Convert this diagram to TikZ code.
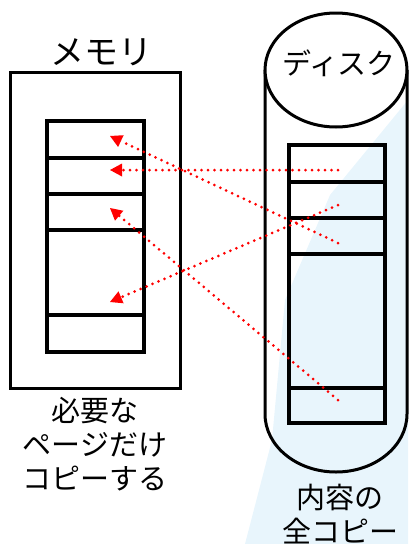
\documentclass[tikz,border=0pt]{standalone}
\usepackage{fontspec}
\setmainfont{Noto Sans CJK JP}
\usetikzlibrary{arrows.meta}
\definecolor{wm}{RGB}{232,245,252}
\definecolor{dotred}{RGB}{255,0,0}
\tikzset{
  rowbox/.style={draw=black, line width=3.5pt, inner sep=0pt},
  outerbox/.style={draw=black, line width=3pt, inner sep=0pt},
  copyarrow/.style={draw=dotred, line width=3pt, line cap=round, dash pattern=on 0pt off 6.5pt,
     -{Triangle[length=12pt,width=13pt,fill=dotred,line width=0pt]}},
  bigtext/.style={font=\fontsize{29}{34}\selectfont, align=center, inner sep=0pt},
}
\begin{document}
\begin{tikzpicture}[x=1pt,y=-1pt]
\useasboundingbox (0,0) rectangle (408,544);
% faint background shape
\fill[wm] (408,100) -- (330,195) -- (285,300) -- (272,440) -- (245,544) -- (408,544) -- cycle;

% memory
\node[outerbox, minimum width=170pt, minimum height=316pt] (mem) at (95,230) {};
\node[font=\fontsize{34}{40}\selectfont, inner sep=0pt] (memtitle) at (101,52) {メモリ};
\node[rowbox, minimum width=97pt, minimum height=37pt] (m1) at (95.5,139.5) {};
\node[rowbox, minimum width=97pt, minimum height=36pt] (m2) at (95.5,176) {};
\node[rowbox, minimum width=97pt, minimum height=36pt] (m3) at (95.5,212) {};
\node[rowbox, minimum width=97pt, minimum height=85pt] (m4) at (95.5,272.5) {};
\node[rowbox, minimum width=97pt, minimum height=37pt] (m5) at (95.5,333.5) {};

% disk cylinder
\draw[line width=3pt] (265,70) -- (265,414)
   arc[start angle=180, end angle=360, x radius=71pt, y radius=58pt] -- (407,70);
\draw[line width=3pt, fill=white] (336,70) ellipse[x radius=71pt, y radius=57pt];
\node[bigtext] (disktitle) at (339,63) {ディスク};
\node[rowbox, minimum width=96pt, minimum height=37pt] (d1) at (337,163.5) {};
\node[rowbox, minimum width=96pt, minimum height=36pt] (d2) at (337,200) {};
\node[rowbox, minimum width=96pt, minimum height=36pt] (d3) at (337,236) {};
\node[rowbox, minimum width=96pt, minimum height=134pt] (d4) at (337,321) {};
\node[rowbox, minimum width=96pt, minimum height=35pt] (d5) at (337,405.5) {};

% arrow ends
\coordinate (s1) at (338,170); \coordinate (t1) at (110,170);
\coordinate (s2) at (338,243); \coordinate (t2) at (110,136);
\coordinate (s3) at (338,205); \coordinate (t3) at (110,302);
\coordinate (s4) at (338,400); \coordinate (t4) at (110,208);
\draw[copyarrow] (s1) -- (t1);
\draw[copyarrow] (s2) -- (t2);
\draw[copyarrow] (s3) -- (t3);
\draw[copyarrow] (s4) -- (t4);

% labels
\node[bigtext] (memlabel) at (95,444) {必要な\\ページだけ\\コピーする};
\node[bigtext] (disklabel) at (340,514) {内容の\\全コピー};
\end{tikzpicture}
\end{document}
